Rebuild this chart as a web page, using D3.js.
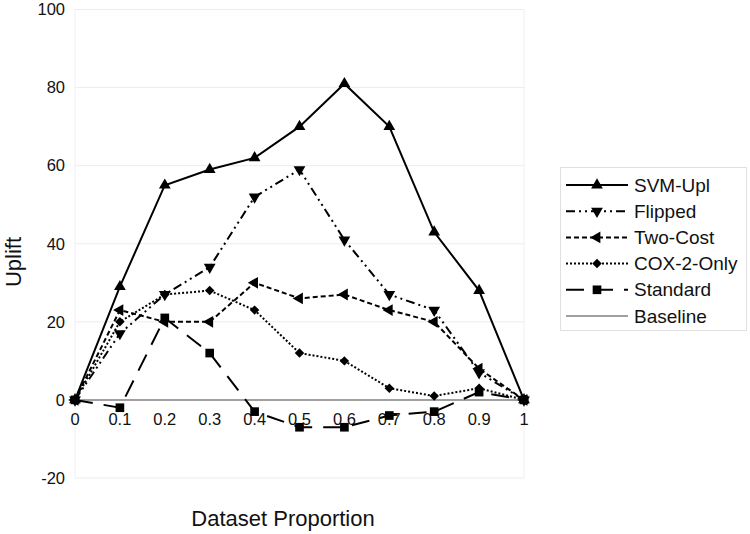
<!DOCTYPE html>
<html><head><meta charset="utf-8">
<script src="https://cdn.jsdelivr.net/npm/d3@7"></script>
<style>body{margin:0;background:#fff;} svg{display:block;font-family:"Liberation Sans",Arial,sans-serif;}</style>
</head><body>
<svg id="c" width="750" height="534"></svg>
<script>
const xValues = [0,0.1,0.2,0.3,0.4,0.5,0.6,0.7,0.8,0.9,1];
const xTickLabels = ["0","0.1","0.2","0.3","0.4","0.5","0.6","0.7","0.8","0.9","1"];
const yTicks = [-20,0,20,40,60,80,100];
const seriesNames = ["SVM-Upl","Flipped","Two-Cost","COX-2-Only","Standard","Baseline"];
const svmUpl   = [0,29,55,59,62,70,81,70,43,28,0];
const flipped  = [0,17,27,34,52,59,41,27,23,7,0];
const twoCost  = [0,23,20,20,30,26,27,23,20,8,0];
const cox2Only = [0,20,27,28,23,12,10,3,1,3,0];
const standard = [0,-2,21,12,-3,-7,-7,-4,-3,2,0];
const baseline = [0,0,0,0,0,0,0,0,0,0,0];

const styles = {
  "SVM-Upl":{dash:null, marker:"up", color:"#000", w:2},
  "Flipped":{dash:"9,4,2,4,2,4", marker:"down", color:"#000", w:2},
  "Two-Cost":{dash:"5,3", marker:"left", color:"#000", w:2},
  "COX-2-Only":{dash:"2,2", marker:"diamond", color:"#000", w:2},
  "Standard":{dash:"18,11", marker:"square", color:"#000", w:2},
  "Baseline":{dash:null, marker:null, color:"#a0a0a0", w:2}
};
const data = [svmUpl,flipped,twoCost,cox2Only,standard,baseline];

const svg = d3.select("#c");
const x = d3.scaleLinear().domain([0,1]).range([75,524]);
const y = d3.scaleLinear().domain([-20,100]).range([478,9.5]);

// grid
svg.append("g").selectAll("line").data(yTicks).join("line")
  .attr("x1",75).attr("x2",524).attr("y1",d=>y(d)).attr("y2",d=>y(d))
  .attr("stroke","#ececec").attr("stroke-width",1);
svg.append("line").attr("x1",75).attr("x2",75).attr("y1",y(100)).attr("y2",y(-20)).attr("stroke","#f0f0f0");
svg.append("line").attr("x1",524).attr("x2",524).attr("y1",y(100)).attr("y2",y(-20)).attr("stroke","#f0f0f0");

// y tick labels
svg.append("g").selectAll("text").data(yTicks).join("text")
  .attr("x",65).attr("y",d=>y(d)).attr("dy","0.35em").attr("text-anchor","end")
  .attr("font-size",16.5).attr("fill","#111").text(d=>d);
// x tick labels (at y=0)
svg.append("g").selectAll("text").data(xValues).join("text")
  .attr("x",d=>x(d)).attr("y",425).attr("text-anchor","middle")
  .attr("font-size",16.5).attr("fill","#111").text((d,i)=>xTickLabels[i]);

// axis titles
svg.append("text").attr("transform","translate(21,262) rotate(-90)").attr("text-anchor","middle")
  .attr("font-size",22).attr("fill","#111").text("Uplift");
svg.append("text").attr("x",283).attr("y",526).attr("text-anchor","middle")
  .attr("font-size",22).attr("fill","#111").text("Dataset Proportion");

const sym = {
  up: d3.symbol().type(d3.symbolTriangle).size(60),
  down: d3.symbol().type(d3.symbolTriangle).size(60),
  left: d3.symbol().type(d3.symbolTriangle).size(60),
  diamond: d3.symbol().type(d3.symbolSquare).size(45),
  square: d3.symbol().type(d3.symbolSquare).size(75)
};
const rot = {up:0, down:180, left:-90, diamond:45, square:0};

const line = d3.line().x((d,i)=>x(xValues[i])).y(d=>y(d));
const order = [5,4,3,2,1,0];
order.forEach(k=>{
  const name = seriesNames[k], st = styles[name];
  svg.append("path").datum(data[k]).attr("d",line).attr("fill","none")
    .attr("stroke",st.color).attr("stroke-width",st.w)
    .attr("stroke-dasharray",st.dash).attr("stroke-linejoin","miter");
});
order.forEach(k=>{
  const name = seriesNames[k], st = styles[name];
  if(!st.marker) return;
  svg.append("g").selectAll("path").data(data[k]).join("path")
    .attr("d",sym[st.marker])
    .attr("transform",(d,i)=>`translate(${x(xValues[i])},${y(d)}) rotate(${rot[st.marker]})`)
    .attr("fill","#000");
});

// legend
const lg = svg.append("g");
lg.append("rect").attr("x",560.5).attr("y",167.5).attr("width",186).attr("height",163)
  .attr("fill","#fff").attr("stroke","#e0e0e0");
const ly = d3.scalePoint().domain(seriesNames).range([185,316]);
seriesNames.forEach((name)=>{
  const st = styles[name], yy = ly(name);
  lg.append("line").attr("x1",566).attr("x2",628).attr("y1",yy).attr("y2",yy)
    .attr("stroke",st.color).attr("stroke-width",st.w).attr("stroke-dasharray",st.dash);
  if(st.marker){
    lg.append("path").attr("d",sym[st.marker])
      .attr("transform",`translate(597,${yy}) rotate(${rot[st.marker]})`).attr("fill","#000");
  }
  lg.append("text").attr("x",634).attr("y",yy).attr("dy","0.35em")
    .attr("font-size",19).attr("fill","#111").text(name);
});
</script>
</body></html>
